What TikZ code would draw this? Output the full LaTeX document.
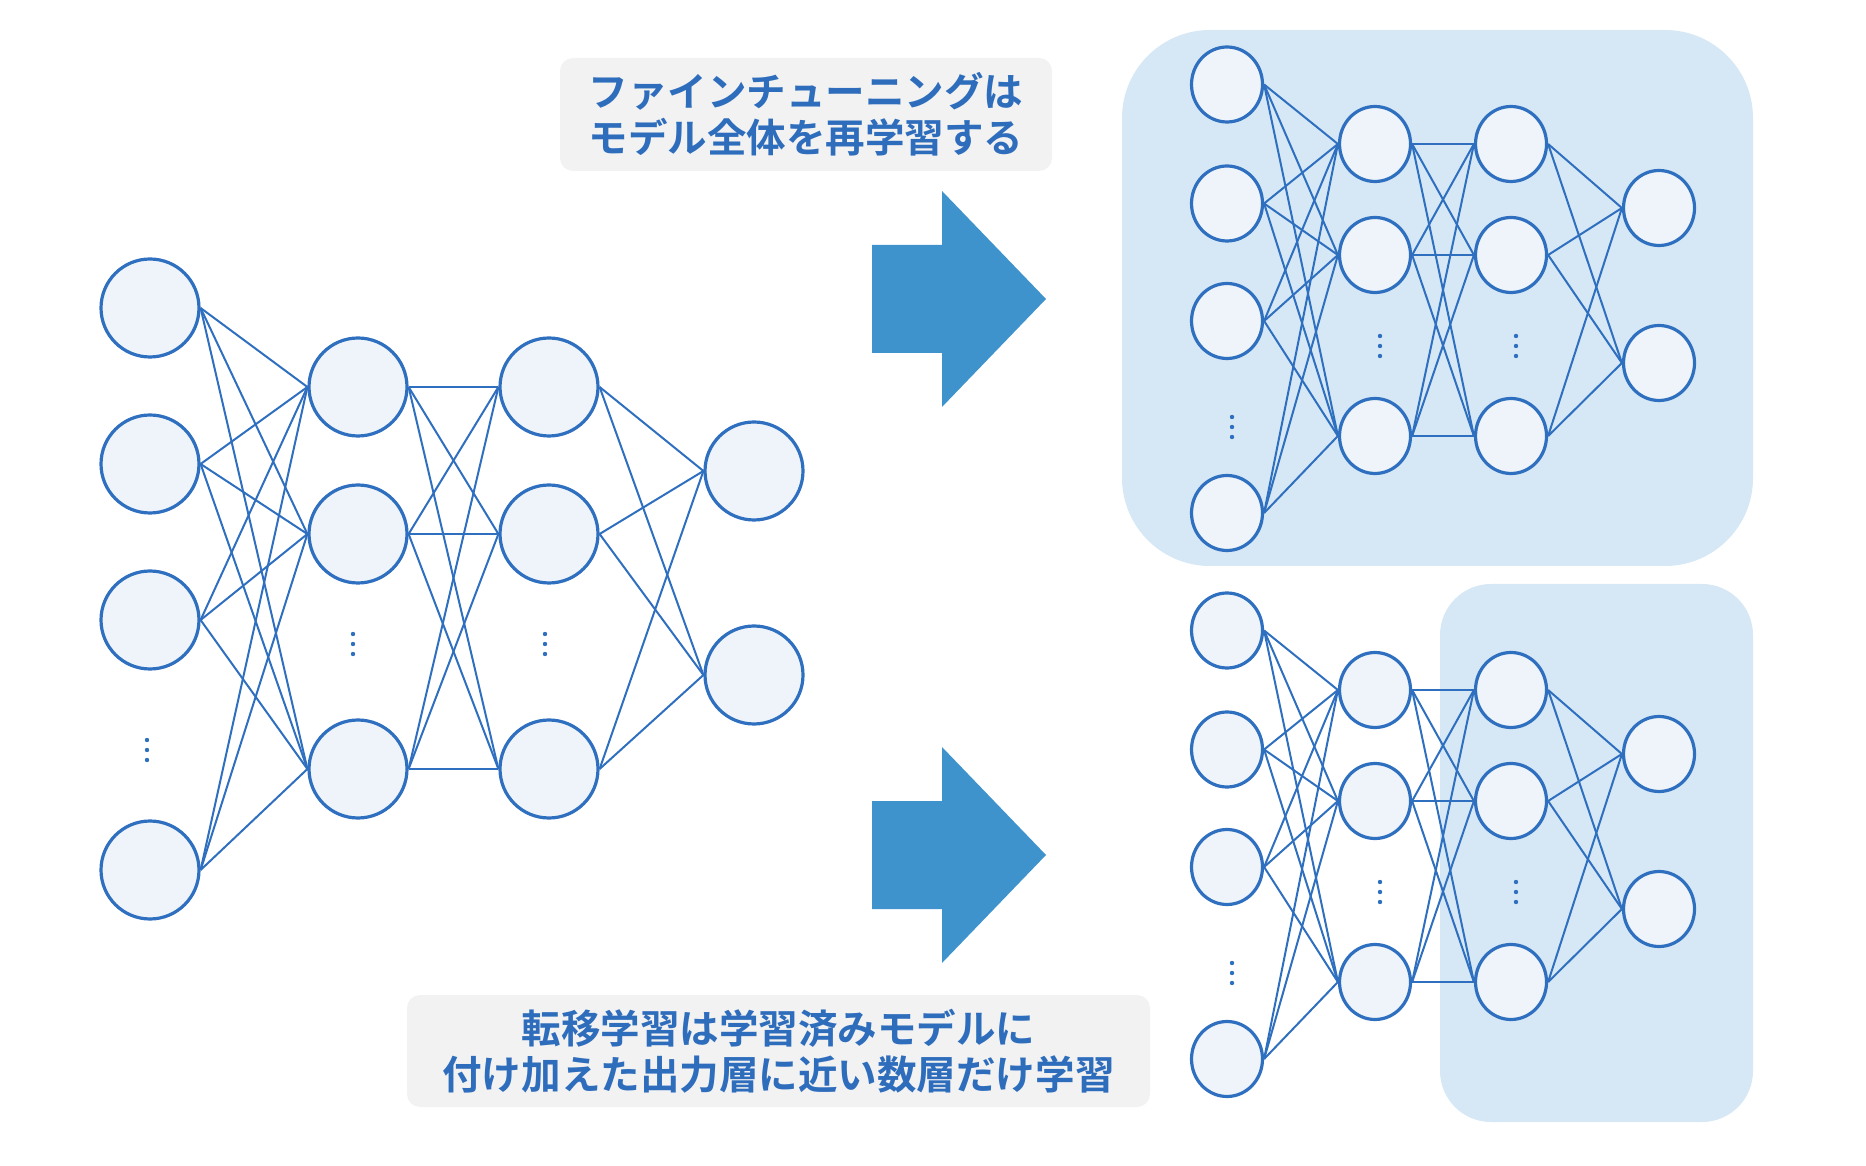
\documentclass[tikz,border=0pt]{standalone}
\usepackage{fontspec}
\newfontfamily\jpfont[BoldFont={Noto Sans CJK JP Bold}]{Noto Sans CJK JP}
\usetikzlibrary{shapes.geometric}

\definecolor{netblue}{HTML}{2F6FBF}
\definecolor{unitfill}{HTML}{EEF4F9}
\definecolor{areablue}{HTML}{D6E8F5}
\definecolor{arrowblue}{HTML}{3F93CC}
\definecolor{notegray}{HTML}{F2F2F2}
\definecolor{notetext}{HTML}{2E6DBC}

\tikzset{
  bigunit/.style={circle, draw=netblue, fill=unitfill, line width=0.32mm, minimum size=9.8mm, inner sep=0pt},
  smallunit/.style={ellipse, draw=netblue, fill=unitfill, line width=0.32mm, minimum width=7.1mm, minimum height=7.5mm, inner sep=0pt},
  link/.style={netblue, line width=0.2mm},
  note/.style={fill=notegray, rounded corners=1.3mm, inner sep=0pt, align=center, text=notetext,
    font=\jpfont\bfseries\fontsize{11.25}{13.2}\selectfont},
  bigarrow/.style={fill=arrowblue}
}

\begin{document}
\begin{tikzpicture}[x=0.1mm,y=-0.1mm]
  \useasboundingbox (0,0) rectangle (1866,1166);

  % shaded areas: what gets retrained
  \fill[areablue, rounded corners=8.8mm] (1122,30) rectangle (1753,566);
  \fill[areablue, rounded corners=5.1mm] (1440,584) rectangle (1753,1122);

  % arrows
  \foreach \dy in {0,556}
    \fill[bigarrow] (872,245+\dy) -- (942,245+\dy) -- (942,191+\dy) -- (1046,299+\dy)
      -- (942,407+\dy) -- (942,353+\dy) -- (872,353+\dy) -- cycle;

  % left network
  \foreach \n/\y in {1/308,2/464,3/620,4/870}
    \node[bigunit] (l-i\n) at (150,\y) {};
  \foreach \n/\y in {1/387,2/534,3/769} {
    \node[bigunit] (l-a\n) at (358,\y) {};
    \node[bigunit] (l-b\n) at (549,\y) {};
  }
  \foreach \n/\y in {1/471,2/675}
    \node[bigunit] (l-o\n) at (754,\y) {};

  \foreach \i in {1,...,4}
    \foreach \j in {1,2,3}
      \draw[link] (l-i\i.east) -- (l-a\j.west);
  \foreach \i in {1,2,3}
    \foreach \j in {1,2,3}
      \draw[link] (l-a\i.east) -- (l-b\j.west);
  \foreach \i in {1,2,3}
    \foreach \j in {1,2}
      \draw[link] (l-b\i.east) -- (l-o\j.west);

  % right networks (t = fine-tuning, b = transfer learning)
  \foreach \p/\dy in {t/0,b/546} {
    \foreach \n/\y in {1/84.5,2/203.5,3/321,4/513}
      \node[smallunit] (\p-i\n) at (1227,\y+\dy) {};
    \foreach \n/\y in {1/144,2/255,3/436} {
      \node[smallunit] (\p-a\n) at (1375,\y+\dy) {};
      \node[smallunit] (\p-b\n) at (1511,\y+\dy) {};
    }
    \foreach \n/\y in {1/208,2/363}
      \node[smallunit] (\p-o\n) at (1659,\y+\dy) {};

    \foreach \i in {1,...,4}
      \foreach \j in {1,2,3}
        \draw[link] (\p-i\i.east) -- (\p-a\j.west);
    \foreach \i in {1,2,3}
      \foreach \j in {1,2,3}
        \draw[link] (\p-a\i.east) -- (\p-b\j.west);
    \foreach \i in {1,2,3}
      \foreach \j in {1,2}
        \draw[link] (\p-b\i.east) -- (\p-o\j.west);
  }

  % vertical dots
  \foreach \x/\y in {147/750,353/644,545/644,1232/427,1380/346,1516/346,1232/973,1380/892,1516/892}
    \foreach \k in {-10,0,10}
      \fill[netblue] (\x,\y+\k) circle[radius=0.22mm];

  % notes
  \node[note, minimum width=49.2mm, minimum height=11.3mm] (ft-note) at (806,114.5)
    {ファインチューニングは\\モデル全体を再学習する};
  \node[note, minimum width=74.3mm, minimum height=11.2mm] (tl-note) at (778.5,1051)
    {転移学習は学習済みモデルに\\付け加えた出力層に近い数層だけ学習};
\end{tikzpicture}
\end{document}
